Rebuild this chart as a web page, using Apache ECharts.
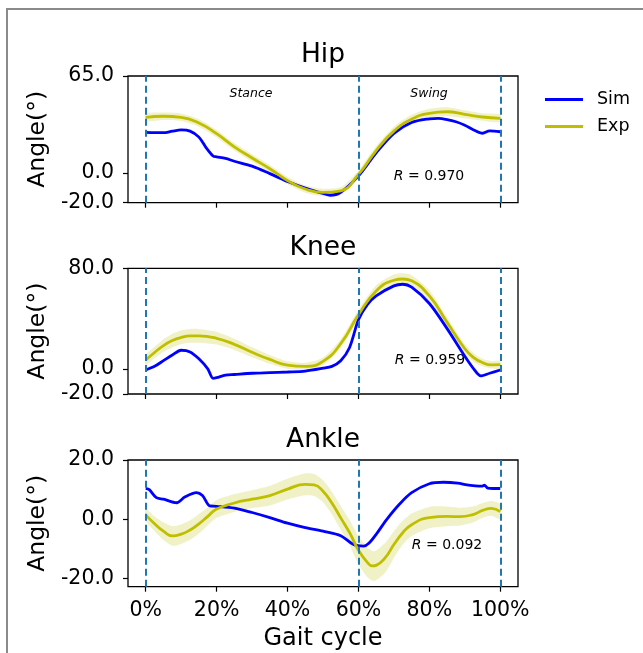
<!DOCTYPE html>
<html>
<head>
<meta charset="utf-8">
<script src="https://cdn.jsdelivr.net/npm/echarts@6/dist/echarts.min.js"></script>
<style>
  html, body { margin: 0; padding: 0; background: #fff; }
  #chart { width: 643px; height: 653px; }
</style>
</head>
<body>
<div id="chart"></div>
<script>
// Joint angles over one gait cycle: simulation (Sim) vs. experiment (Exp, mean ± band)
const xTickValues = [0, 20, 40, 60, 80, 100];
const phaseEvents = [0, 60, 100];

// Hip
const hipExpX = [0, 5, 10, 15, 20, 25, 30, 35, 40, 45, 50, 55, 60, 65, 70, 75, 80, 85, 90, 95, 100];
const hipExpY = [37.3, 38, 37.3, 33.5, 26.3, 17.5, 10, 2.8, -5.2, -10.8, -13.1, -12, -1, 15, 28, 36, 40, 41, 39.3, 37.5, 36.6];
const hipExpBand = [2.5, 2.5, 2.5, 2.5, 2.5, 2.5, 2.5, 2.5, 2.5, 2.5, 2.5, 2.5, 2.5, 3, 3, 3, 3, 3, 2.7, 2.5, 2.5];
const hipSimX = [0, 2.5, 5, 7.5, 10, 12.5, 15, 17, 19, 20, 22.5, 25, 30, 35, 40, 45, 50, 52, 55, 60, 65, 70, 75, 80, 82.5, 85, 87.5, 90, 92.5, 95, 97, 100];
const hipSimY = [27.2, 27, 27, 28, 28.8, 28, 24, 17, 11.3, 10.8, 9.7, 7.8, 4.5, -0.5, -5.8, -10.2, -13.8, -15, -13, -2, 13.5, 26.5, 33.8, 36.3, 36.6, 35.8, 34.3, 32, 28.8, 26.6, 28.2, 27.6];

// Knee
const kneeExpX = [0, 2.5, 5, 7.5, 10, 12.5, 15, 20, 25, 30, 35, 40, 45, 50, 55, 60, 65, 70, 72.5, 75, 80, 85, 90, 92.5, 95, 97.5, 100];
const kneeExpY = [7, 13, 18.5, 22.5, 25, 26.2, 26.2, 24.3, 19.5, 13.2, 7.5, 3, 2, 6, 20, 43, 62, 70.5, 71.5, 70, 58, 37, 16, 9, 5, 3.2, 3.3];
const kneeExpBand = [4, 4.5, 5, 5.5, 5.5, 5.5, 5.5, 5, 4.5, 4, 3.5, 3, 2.8, 3, 3.5, 4, 4.5, 4.5, 4.5, 4.5, 4.5, 4, 3.5, 3.5, 3, 3, 3];
const kneeSimX = [0, 2.5, 5, 7.5, 10, 12.5, 15, 17.5, 19, 20, 22.5, 25, 30, 35, 40, 45, 50, 52.5, 55, 57.5, 60, 62.5, 65, 70, 72.5, 75, 80, 85, 90, 92.5, 94.5, 97, 100];
const kneeSimY = [-0.9, 2, 6.5, 11, 14.8, 13.5, 8, 0, -7.5, -7, -5, -4.5, -3.5, -3, -2.5, -1.8, 0.5, 2, 6.5, 17, 39, 51, 58, 66, 67.3, 65, 52, 32, 10, 0, -5.6, -3.5, -0.9];

// Ankle
const ankleExpX = [0, 2.5, 5, 7.5, 10, 12.5, 15, 17.5, 20, 25, 30, 35, 40, 45, 47.5, 50, 52.5, 55, 57.5, 60, 62.5, 64, 65, 67.5, 70, 72.5, 75, 80, 85, 88.7, 92.5, 95, 97.5, 100];
const ankleExpY = [1.5, -1.5, -4, -5.6, -5, -3.6, -1.5, 1, 3.5, 5.5, 6.8, 8, 10.2, 11.8, 11.6, 9.5, 5.5, 0.5, -4.5, -10.4, -14.5, -15.7, -15.5, -13, -8.5, -4.5, -1.8, 0.6, 1, 0.9, 1.7, 3, 3.7, 2.6];
const ankleExpBand = [2, 2.5, 3, 3.3, 3.3, 3.3, 3.3, 3, 3, 3, 3, 3.3, 3.5, 3.7, 3.7, 3.7, 3.8, 4, 4.3, 4.7, 5, 5, 5, 5, 4.5, 4, 3.8, 3.6, 3.3, 3, 2.7, 2.5, 2.5, 2.5];
const ankleSimX = [0, 1, 3, 5, 8.7, 11, 14.3, 16, 18.1, 20, 25, 30, 35, 40, 45, 50, 55, 58.6, 61.5, 63, 65.2, 68, 71.8, 75, 80, 84, 88, 90.6, 93, 94.8, 95.5, 96.5, 98, 100];
const ankleSimY = [10.4, 10, 7.3, 6.8, 5.6, 7.5, 9, 8, 4.5, 4.4, 3.8, 2.3, 0.6, -1.3, -2.8, -4, -5.5, -8.5, -9, -8, -4.7, 0, 5.4, 9, 12, 12.5, 12.2, 11.6, 11.3, 11.2, 11.5, 10.5, 10.4, 10.4];

const jointNames = ['Hip', 'Knee', 'Ankle'];
const correlations = ['0.970', '0.959', '0.092'];
const yTickValues = [[-20, 0, 65], [-20, 0, 80], [-20, 0, 20]];
const yLimits = [[-20, 65], [-20, 80], [-22.7, 20]];

const FONT = 'DejaVu Sans';
const SIM_COLOR = '#0000ff';
const EXP_COLOR = '#bfbf00';
const BAND_COLOR = 'rgba(191,191,0,0.22)';
const EVENT_COLOR = '#1f77b4';

const joints = [
  { expX: hipExpX, expY: hipExpY, band: hipExpBand, simX: hipSimX, simY: hipSimY },
  { expX: kneeExpX, expY: kneeExpY, band: kneeExpBand, simX: kneeSimX, simY: kneeSimY },
  { expX: ankleExpX, expY: ankleExpY, band: ankleExpBand, simX: ankleSimX, simY: ankleSimY }
];

// panel placement
const gridLeft = 128, gridWidth = 390;
const gridTops = [76, 268.3, 460];
const gridHeights = [126.7, 125.7, 126.7];

const pairs = (xs, ys) => xs.map((x, i) => [x, ys[i]]);

// shaded mean ± spread region drawn as one closed outline
function bandRenderer(rows) {
  return function (params, api) {
    if (params.dataIndex !== 0) return;
    const upper = rows.map(r => api.coord([r[0], r[2]]));
    const lower = rows.map(r => api.coord([r[0], r[1]])).reverse();
    return {
      type: 'polygon',
      shape: { points: upper.concat(lower), smooth: 0.25 },
      style: { fill: BAND_COLOR, stroke: 'none' },
      silent: true
    };
  };
}

const grids = [], xAxes = [], yAxes = [], series = [];
joints.forEach((j, k) => {
  grids.push({
    left: gridLeft, top: gridTops[k], width: gridWidth, height: gridHeights[k],
    show: true, borderColor: '#000', borderWidth: 1.3, backgroundColor: 'transparent',
    outerBoundsMode: 'none', containLabel: false
  });
  const last = k === joints.length - 1;
  xAxes.push({
    type: 'value', gridIndex: k, min: -5, max: 105, position: 'bottom',
    axisLine: { show: false, onZero: false },
    splitLine: { show: false },
    axisTick: { show: true, length: 5, lineStyle: { color: '#000', width: 1.2 }, customValues: xTickValues },
    axisLabel: {
      show: last, customValues: xTickValues, margin: 13,
      fontFamily: FONT, fontSize: 20.5, color: '#000',
      formatter: v => v + '%'
    },
    name: last ? 'Gait cycle' : '',
    nameLocation: 'middle', nameGap: 40,
    nameTextStyle: { fontFamily: FONT, fontSize: 24, color: '#000' }
  });
  yAxes.push({
    type: 'value', gridIndex: k, min: yLimits[k][0], max: yLimits[k][1], position: 'left',
    axisLine: { show: false, onZero: false },
    splitLine: { show: false },
    axisTick: { show: true, length: 5, lineStyle: { color: '#000', width: 1.2 }, customValues: yTickValues[k] },
    axisLabel: {
      customValues: yTickValues[k], margin: 14,
      fontFamily: FONT, fontSize: 20.5, color: '#000',
      formatter: v => v.toFixed(1)
    },
    name: 'Angle(°)', nameLocation: 'middle', nameGap: 72,
    nameTextStyle: { fontFamily: FONT, fontSize: 23.5, color: '#000' }
  });

  const bandRows = j.expX.map((x, i) => [x, j.expY[i] - j.band[i], j.expY[i] + j.band[i]]);
  series.push({
    type: 'custom', name: 'Exp band', xAxisIndex: k, yAxisIndex: k,
    data: bandRows, encode: { x: 0, y: [1, 2] },
    renderItem: bandRenderer(bandRows), silent: true, z: 1,
    markLine: {
      silent: true, symbol: ['none', 'none'], label: { show: false },
      lineStyle: { color: EVENT_COLOR, width: 2, type: [7, 4] },
      data: phaseEvents.map(x => ({ xAxis: x })), animation: false
    }
  });
  series.push({
    type: 'line', name: 'Sim', xAxisIndex: k, yAxisIndex: k,
    data: pairs(j.simX, j.simY), smooth: 0.3, symbol: 'none',
    lineStyle: { color: SIM_COLOR, width: 2.8 }, itemStyle: { color: SIM_COLOR }, z: 3
  });
  series.push({
    type: 'line', name: 'Exp', xAxisIndex: k, yAxisIndex: k,
    data: pairs(j.expX, j.expY), smooth: true, symbol: 'none',
    lineStyle: { color: EXP_COLOR, width: 2.8 }, itemStyle: { color: EXP_COLOR }, z: 4
  });
});

// text annotations
const graphics = [
  { type: 'rect', shape: { x: 7, y: 9, width: 700, height: 700 }, style: { fill: 'none', stroke: '#8a8a8a', lineWidth: 2 }, silent: true }
];
const titleY = [55, 248, 440];
jointNames.forEach((name, k) => {
  graphics.push({
    type: 'text', x: gridLeft + gridWidth / 2, y: titleY[k],
    style: { text: name, font: '26.5px "' + FONT + '"', fill: '#000', textAlign: 'center', textVerticalAlign: 'middle' }
  });
});
const rPos = [[429, 176], [430, 360], [447, 545]];
correlations.forEach((r, k) => {
  graphics.push({
    type: 'text', x: rPos[k][0], y: rPos[k][1],
    style: {
      text: '{i|R} = ' + r, fontFamily: FONT, fontSize: 14, fill: '#000',
      textAlign: 'center', textVerticalAlign: 'middle',
      rich: { i: { fontStyle: 'italic', fontFamily: FONT, fontSize: 14 } }
    }
  });
});
graphics.push(
  { type: 'text', x: 251, y: 94, style: { text: 'Stance', font: 'italic 12.5px "' + FONT + '"', fill: '#000', textAlign: 'center', textVerticalAlign: 'middle' } },
  { type: 'text', x: 429, y: 94, style: { text: 'Swing', font: 'italic 12.5px "' + FONT + '"', fill: '#000', textAlign: 'center', textVerticalAlign: 'middle' } }
);

const chart = echarts.init(document.getElementById('chart'), null, { renderer: 'canvas' });
chart.setOption({
  animation: false,
  backgroundColor: '#fff',
  textStyle: { fontFamily: FONT },
  grid: grids,
  xAxis: xAxes,
  yAxis: yAxes,
  legend: {
    data: ['Sim', 'Exp'], orient: 'vertical', left: 545, top: 90, padding: 0,
    itemWidth: 38, itemHeight: 14, itemGap: 8, selectedMode: false,
    icon: 'path://M0,5.5 L38,5.5 L38,8.5 L0,8.5 Z',
    textStyle: { fontFamily: FONT, fontSize: 17.5, color: '#000', padding: [0, 0, 0, 9], lineHeight: 19 }
  },
  graphic: graphics,
  series: series
});
</script>
</body>
</html>
